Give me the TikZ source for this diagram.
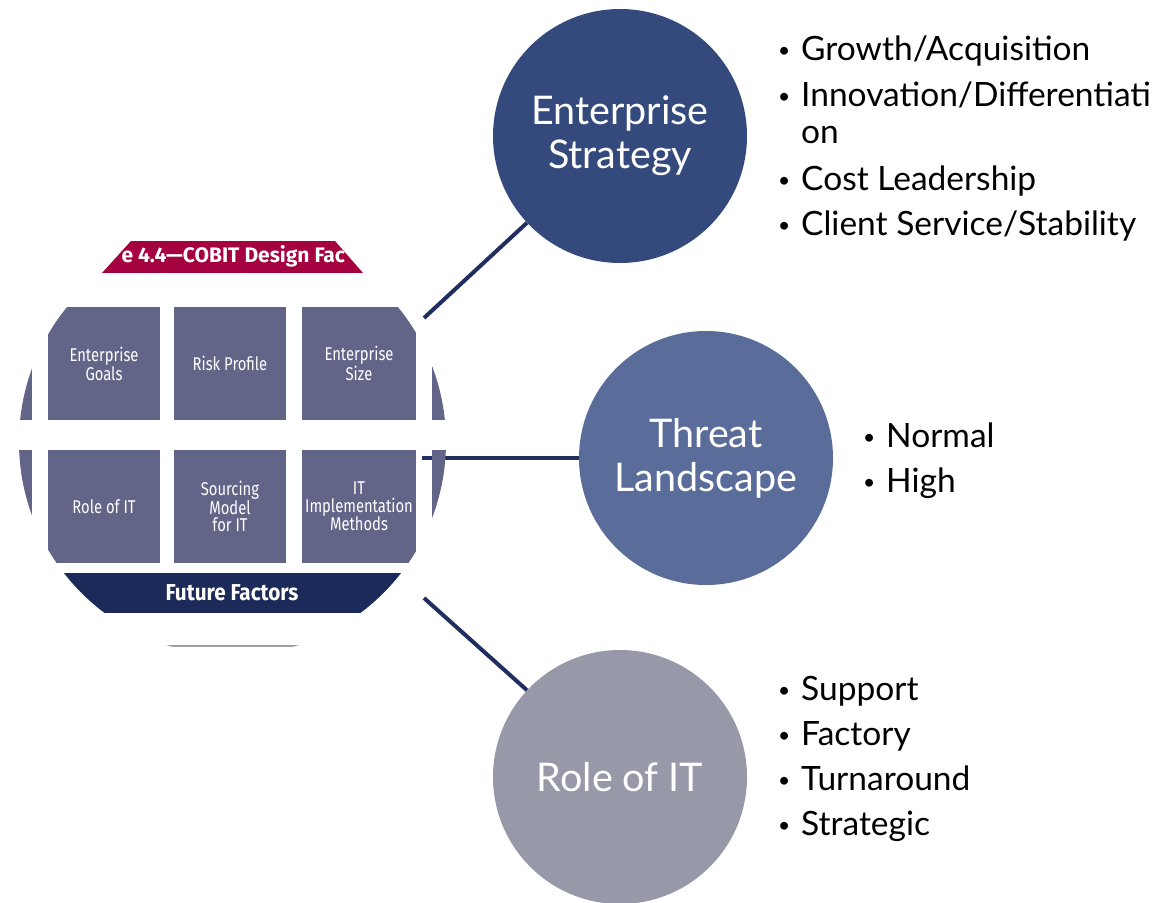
\documentclass[tikz,border=0pt]{standalone}
\usepackage{fontspec}
\setmainfont{Lato}
\newfontfamily\boxfont[FakeStretch=0.8]{Fira Sans}
\newfontfamily\ffont[FakeStretch=0.9]{Fira Sans}
\newfontfamily\tfont{Fira Sans}
\definecolor{esblue}{HTML}{354A7C}
\definecolor{tlblue}{HTML}{5A6D9A}
\definecolor{rgray}{HTML}{9899A8}
\definecolor{boxgray}{HTML}{636588}
\definecolor{cobred}{HTML}{A5003F}
\definecolor{navy}{HTML}{1C2A5A}
\definecolor{linec}{HTML}{1F2E5E}
\tikzset{
  bigcirc/.style={circle, minimum size=254pt, inner sep=0pt, text=white, align=center,
    font=\fontsize{39.5}{44}\selectfont},
  bx/.style={fill=boxgray, minimum width=112pt, minimum height=113pt, inner sep=0pt,
    text=white, align=center, font=\boxfont\fontsize{18.5}{17.5}\selectfont},
  item/.style={anchor=base west, inner sep=0pt, font=\fontsize{33.5}{37}\selectfont, text=black},
  conn/.style={draw=linec, line width=4pt}
}
\newcommand{\bul}[1]{\makebox[23pt][l]{\raisebox{3pt}{\fontsize{21}{21}\selectfont•}}#1}
\begin{document}
\begin{tikzpicture}[x=1pt,y=-1pt]
\useasboundingbox (0,0) rectangle (1156,902);
% right circles
\node[bigcirc, fill=esblue] (es) at (620,136) {Enterprise\\Strategy};
\node[bigcirc, fill=tlblue] (tl) at (706,458) {Threat\\Landscape};
\node[bigcirc, fill=rgray] (rt) at (620,777) {Role of IT};
% connectors
\coordinate (l1) at (424,318);
\coordinate (l2) at (422,458);
\coordinate (l3) at (424,598);
\draw[conn] (l1) -- (es.223);
\draw[conn] (l2) -- (tl.west);
\draw[conn] (l3) -- (rt.137);
% left image
\begin{scope}
\clip (232.5,442) circle (213.5);
\fill[boxgray] (0,307) rectangle (32,420);
\fill[boxgray] (0,450) rectangle (32,563);
\fill[boxgray] (432,307) rectangle (470,420);
\fill[boxgray] (432,450) rectangle (470,563);
\node[bx] (b1) at (104,363.5) {Enterprise\\Goals};
\node[bx] (b2) at (230,363.5) {Risk Profile};
\node[bx, minimum width=114pt] (b3) at (359,363.5) {Enterprise\\Size};
\node[bx] (b4) at (104,506.5) {Role of IT};
\node[bx] (b5) at (230,506.5) {Sourcing\\Model\\for IT};
\node[bx, minimum width=114pt] (b6) at (359,506.5) {IT\\Implementation\\Methods};
\fill[navy] (0,573) rectangle (470,613);
\node[text=white, font=\ffont\bfseries\fontsize{23}{24}\selectfont] (ff) at (232,593) {Future Factors};
\draw[gray!75, line width=2.5pt] (160,646) -- (305,646);
\end{scope}
\begin{scope}
\clip (131,241) -- (335,241) -- (363,273) -- (102,273) -- cycle;
\fill[cobred] (100,241) rectangle (370,273);
\node[text=white, font=\tfont\bfseries\fontsize{21}{22}\selectfont, anchor=base west] (ttl) at (118,262) {e 4.4—COBIT Design Fac};
\end{scope}
% bullet lists
\node[item] (e1) at (778,60) {\bul{Growth/Acquisition}};
\node[item] (e2) at (778,106) {\bul{Innovation/Differentiati}};
\node[item] (e2b) at (801,143) {on};
\node[item] (e3) at (778,190) {\bul{Cost Leadership}};
\node[item] (e4) at (778,235) {\bul{Client Service/Stability}};
\node[item] (t1) at (863,447) {\bul{Normal}};
\node[item] (t2) at (863,492) {\bul{High}};
\node[item] (r1) at (778,700) {\bul{Support}};
\node[item] (r2) at (778,745) {\bul{Factory}};
\node[item] (r3) at (778,790) {\bul{Turnaround}};
\node[item] (r4) at (778,835) {\bul{Strategic}};
\end{tikzpicture}
\end{document}
